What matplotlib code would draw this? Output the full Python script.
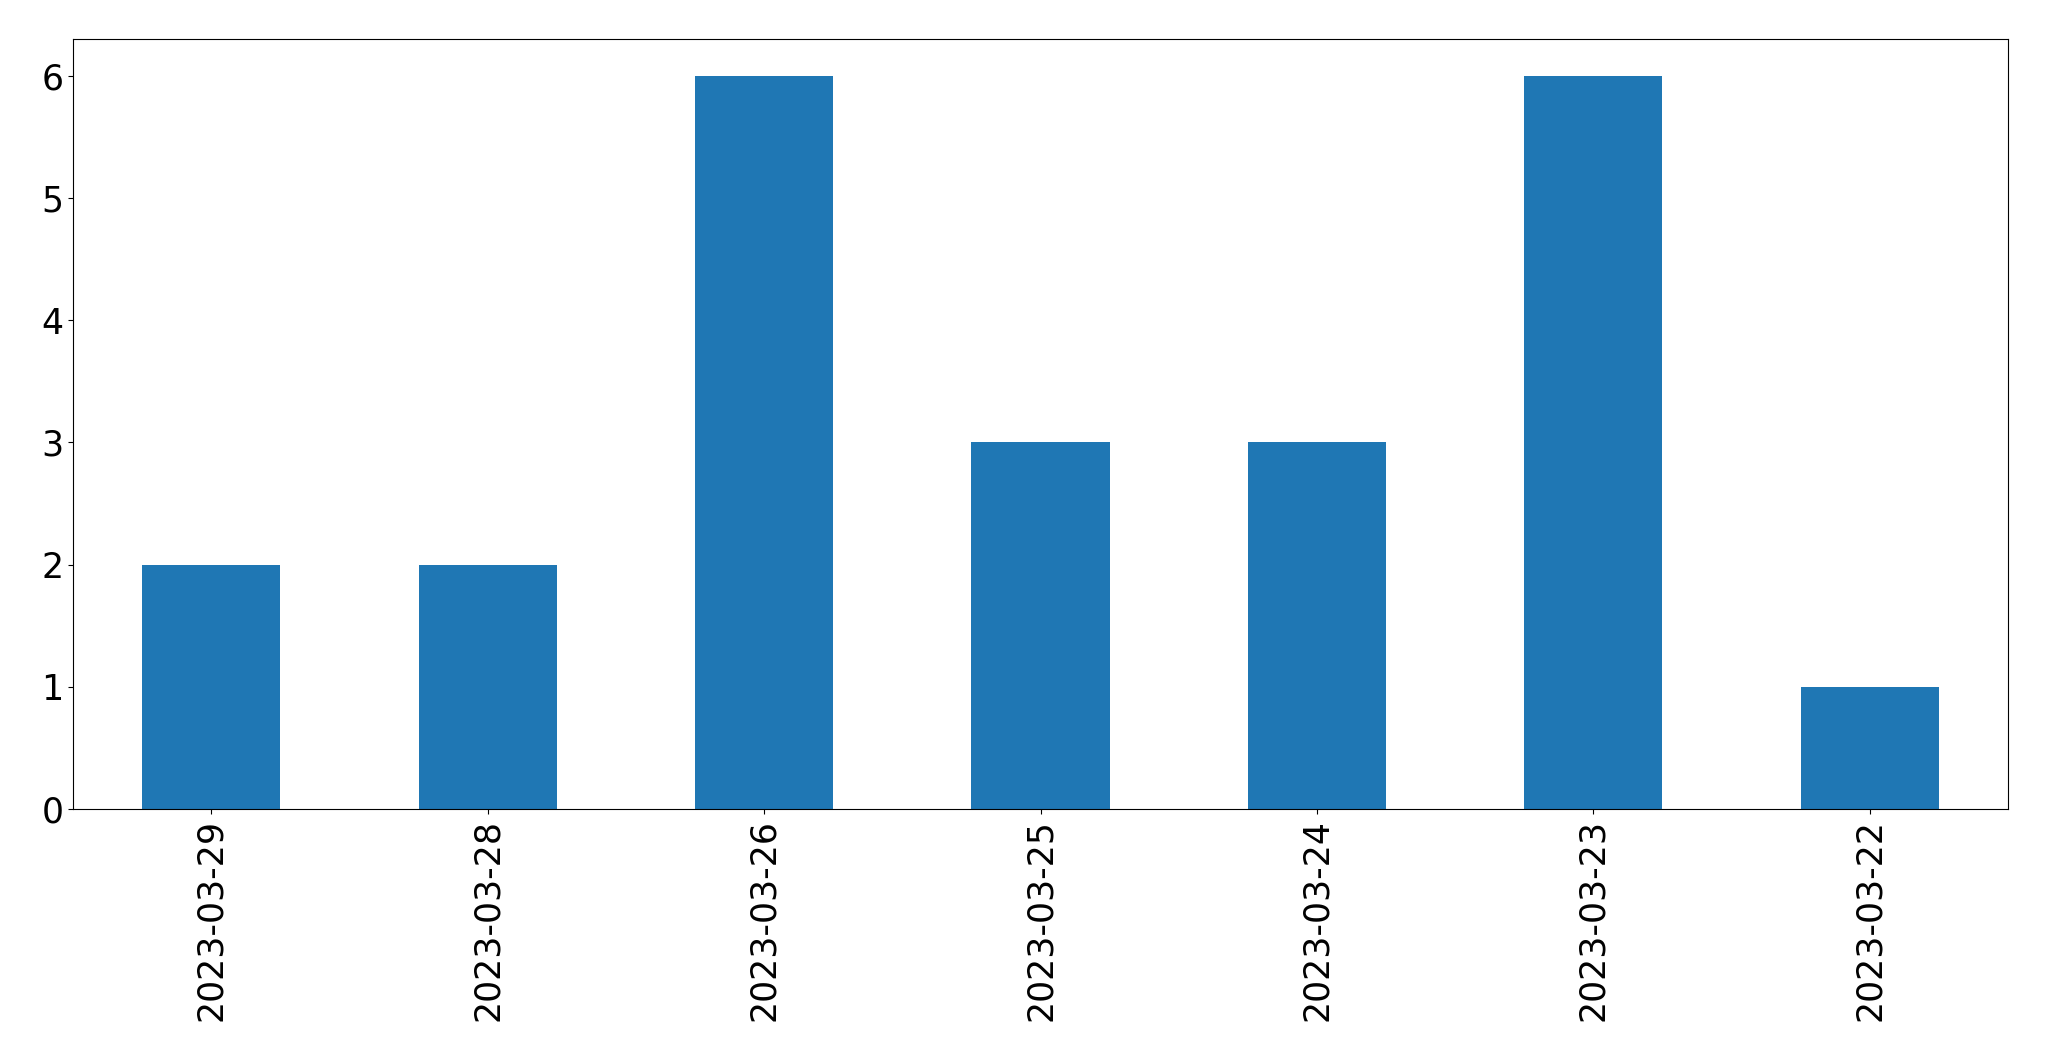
import matplotlib
matplotlib.use("Agg")
import matplotlib.pyplot as plt

dates = ["2023-03-29", "2023-03-28", "2023-03-26", "2023-03-25", "2023-03-24", "2023-03-23", "2023-03-22"]
counts = [2, 2, 6, 3, 3, 6, 1]

W, H = 2049, 1061
fig = plt.figure(figsize=(W / 100, H / 100), dpi=100)
ax = fig.add_axes([73 / W, 1 - 809 / H, (2008 - 73) / W, (809 - 39) / H])
x = range(len(dates))
ax.bar(x, counts, width=0.5, color="#1f77b4")
ax.set_xlim(-0.5, len(dates) - 0.5)
ax.set_ylim(0, 6.3)
ax.set_xticks(list(x))
ax.set_xticklabels(dates, rotation=90)
ax.tick_params(labelsize=25)
fig.savefig("out.png", dpi=100)
